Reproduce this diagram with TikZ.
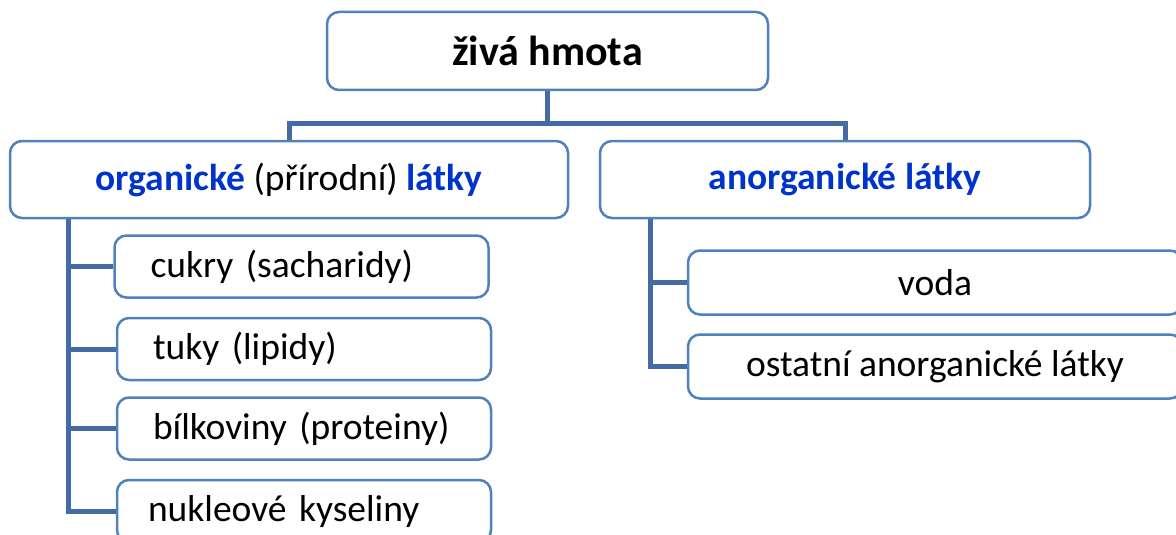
\documentclass[tikz,border=0pt]{standalone}
\usepackage{fontspec}
\setmainfont{Carlito}
\definecolor{boxline}{RGB}{79,129,189}
\definecolor{linkline}{RGB}{68,108,162}
\definecolor{titleblue}{RGB}{0,51,204}
\begin{document}
\begin{tikzpicture}[x=1pt,y=-1pt,
  box/.style={draw=boxline,line width=2.5pt,rounded corners=12pt,fill=white,inner sep=0pt,font=\fontsize{37.5}{44}\selectfont},
  leftsub/.style={box,minimum height=62pt,inner xsep=36pt,text width=302pt,align=left},
  rightsub/.style={box,minimum height=64pt,minimum width=494pt},
  link/.style={draw=linkline,line width=5pt}]
\useasboundingbox (0,0) rectangle (1176,535);
% top level
\node[box,minimum width=441pt,minimum height=78pt,font=\fontsize{42}{48}\selectfont\bfseries] (hmota) at (547.5,51) {živá hmota};
\node[box,minimum width=558pt,minimum height=77pt] (org) at (289,179.5)
  {{\color{titleblue}\bfseries organické} (přírodní) {\color{titleblue}\bfseries látky}};
\node[box,minimum width=490pt,minimum height=77pt] (anorg) at (845,179.5)
  {\color{titleblue}\bfseries anorganické látky};
\coordinate (hub) at (547.5,123);
\draw[link] (hmota.south) -- (hub) -| (org.north);
\draw[link] (hub) -| (anorg.north);
% organic side
\node[leftsub,minimum width=373pt] (cukry) at (301.5,266.5) {cukry (sacharidy)};
\node[leftsub,minimum width=374pt] (tuky) at (304,349) {tuky (lipidy)};
\node[leftsub,minimum width=374pt] (bilk) at (304,428.5) {bílkoviny (proteiny)};
\node[leftsub,minimum width=374pt,inner xsep=31pt,text width=312pt] (nukl) at (304,511) {nukleové kyseliny};
\coordinate (lstem) at ([xshift=-221pt]org.south);
\draw[link] (lstem) |- (nukl.west);
\foreach \n in {cukry,tuky,bilk}
  \draw[link] (\n.west) -- (\n.west -| lstem);
% inorganic side
\node[rightsub] (voda) at (935,282.5) {voda};
\node[rightsub] (ostatni) at (935,366.5) {ostatní anorganické látky};
\coordinate (rstem) at ([xshift=-195pt]anorg.south);
\draw[link] (rstem) |- (ostatni.west);
\draw[link] (voda.west) -- (voda.west -| rstem);
\end{tikzpicture}
\end{document}
